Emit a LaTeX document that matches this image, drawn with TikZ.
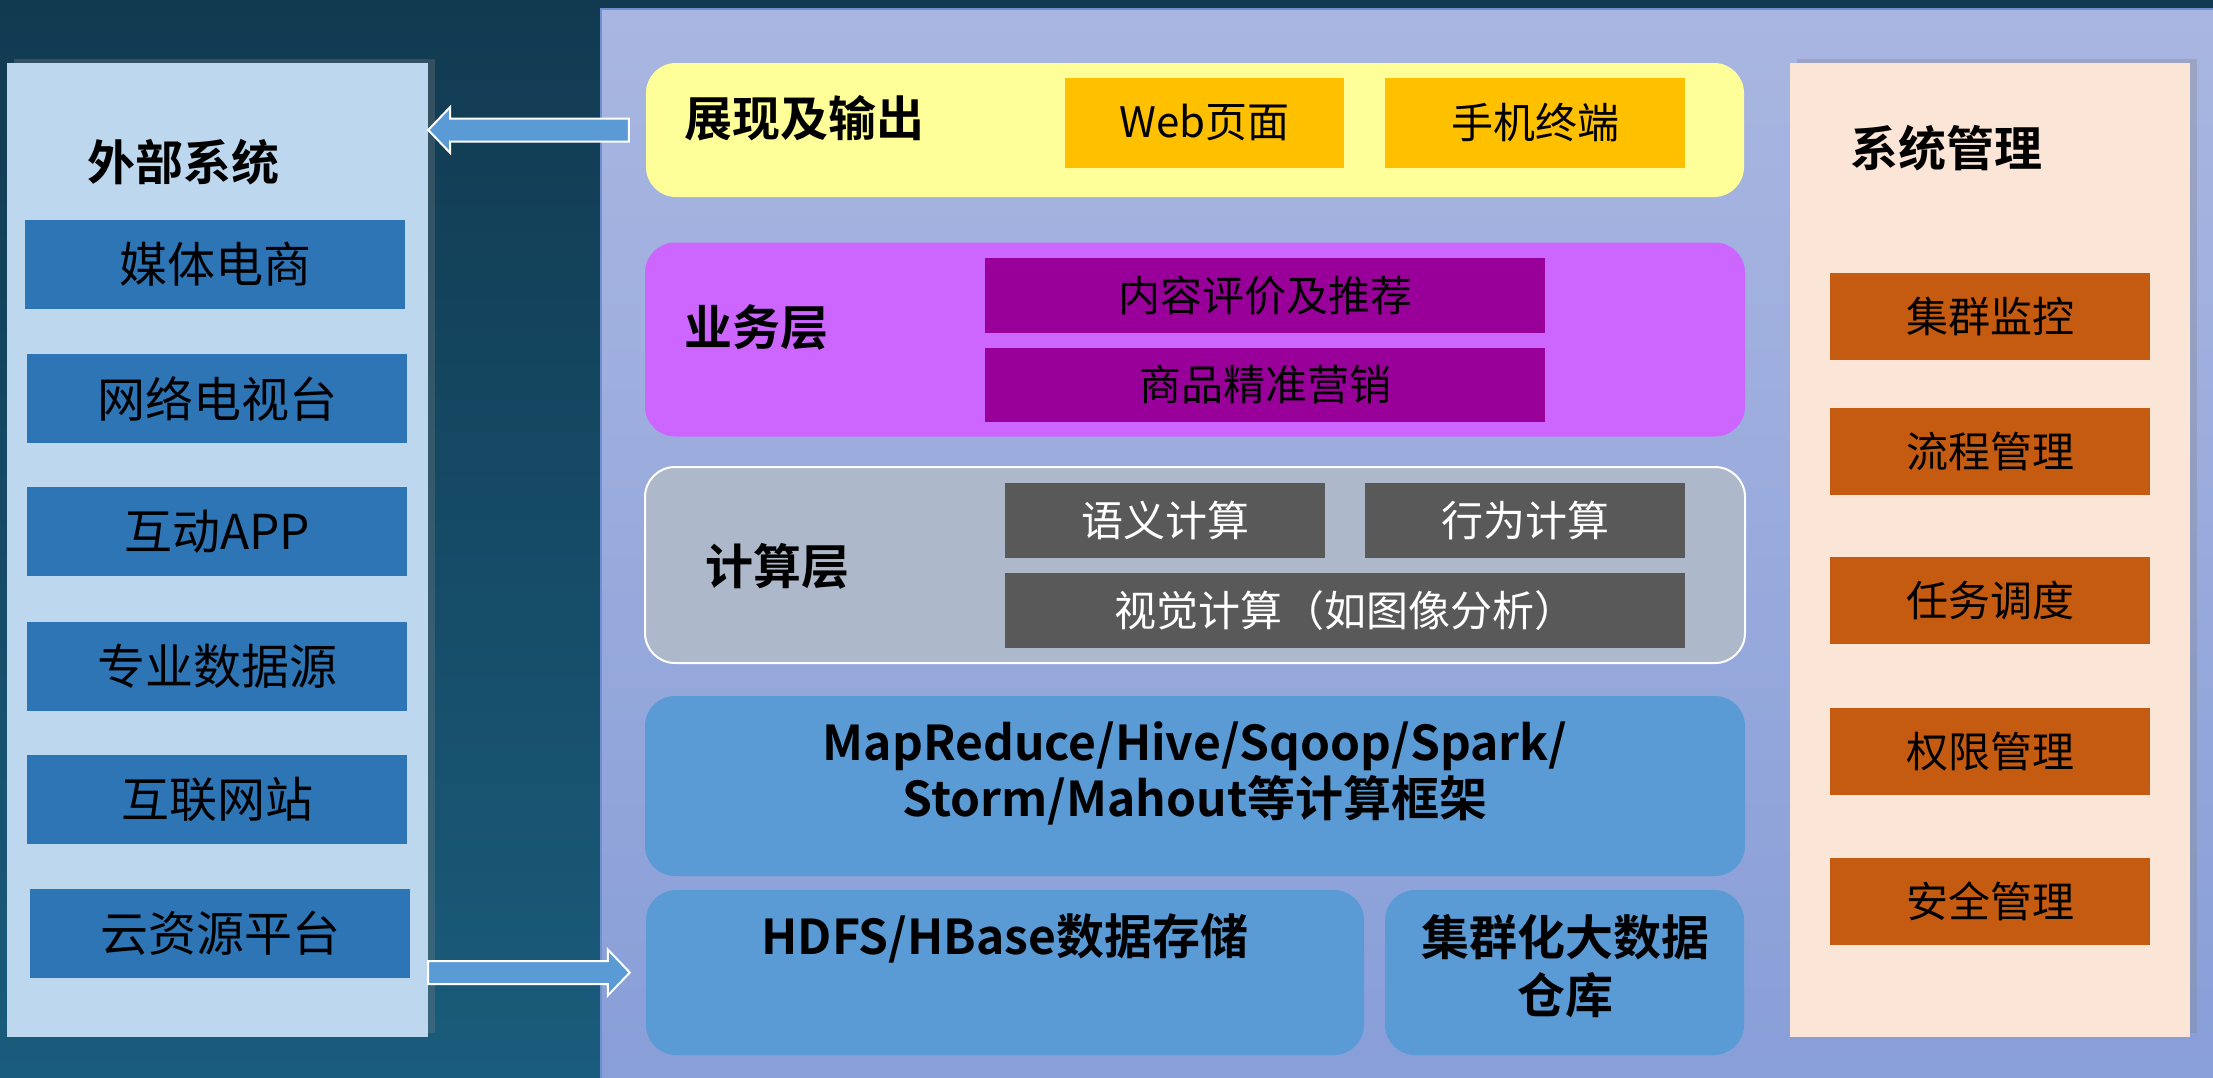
\documentclass[tikz,border=0pt]{standalone}
\usepackage{fontspec}
\setmainfont{Noto Sans CJK SC}[BoldFont={Noto Sans CJK SC Bold}]
\usetikzlibrary{calc,shadows}

\definecolor{bgtop}{HTML}{113A50}
\definecolor{bgbottom}{HTML}{1A5C7C}
\definecolor{coretop}{HTML}{A9B6E1}
\definecolor{corebottom}{HTML}{889ED8}
\definecolor{coreedge}{HTML}{6F8FD2}
\definecolor{extback}{HTML}{BDD7EE}
\definecolor{extblue}{HTML}{2E75B6}
\definecolor{mgmtback}{HTML}{FBE5D6}
\definecolor{mgmtorange}{HTML}{C55A11}
\definecolor{showyellow}{HTML}{FFFF99}
\definecolor{showorange}{HTML}{FFC000}
\definecolor{bizpurple}{HTML}{CC66FF}
\definecolor{bizdark}{HTML}{990099}
\definecolor{compgrey}{HTML}{ADB9CA}
\definecolor{compdark}{HTML}{595959}
\definecolor{layerblue}{HTML}{5B9BD5}

\tikzset{
  sidepanel/.style={fill=#1, inner sep=0pt, drop shadow={shadow xshift=7pt, shadow yshift=4pt, opacity=0.3}},
  layerbox/.style={fill=#1, rounded corners=30pt, inner sep=0pt},
  itembox/.style={fill=#1, inner sep=0pt, font=\fontsize{42}{50}\selectfont},
  extbox/.style={fill=extblue, minimum width=380pt, minimum height=89pt, inner sep=0pt, font=\fontsize{48}{56}\selectfont},
  mgmtbox/.style={fill=mgmtorange, minimum width=320pt, minimum height=87pt, inner sep=0pt, font=\fontsize{42}{50}\selectfont},
  heading/.style={inner sep=0pt, anchor=west, font=\fontsize{48}{56}\selectfont\bfseries},
  bigtext/.style={inner sep=0pt, align=center, font=\fontsize{48}{#1}\selectfont\bfseries},
  bigarrow/.style={fill=layerblue, draw=white, line width=2pt},
}

% #1 tail, #2 tip, #3 direction (1 right, -1 left)
\newcommand{\blockarrow}[3]{%
  \filldraw[bigarrow] ($(#1)+(0,-11.5)$) -- ($(#2)+(-22*#3,-11.5)$) -- ($(#2)+(-22*#3,-23)$) -- (#2)
    -- ($(#2)+(-22*#3,23)$) -- ($(#2)+(-22*#3,11.5)$) -- ($(#1)+(0,11.5)$) -- cycle;}

\begin{document}
\begin{tikzpicture}[x=1pt, y=-1pt]
        \useasboundingbox (0,0) rectangle (2213,1077);
        \shade[top color=bgtop, bottom color=bgbottom] (0,0) rectangle (2213,1077);
        \shade[top color=coretop, bottom color=corebottom, draw=coreedge, line width=1.5pt] (601,9) rectangle (2240,1100);

        % external systems
        \node[sidepanel=extback, minimum width=421pt, minimum height=974pt] (ext) at (217.5,550) {};
        \node[heading] (extt) at (87,162) {外部系统};
        \node[extbox] (media) at (215,264.5) {媒体电商};
        \node[extbox] (iptv) at (217,398.5) {网络电视台};
        \node[extbox] (app) at (217,531.5) {互动APP};
        \node[extbox] (prof) at (217,666) {专业数据源};
        \node[extbox] (site) at (217,799) {互联网站};
        \node[extbox] (cloud) at (220,933) {云资源平台};

        % system management
        \node[sidepanel=mgmtback, minimum width=400pt, minimum height=974pt] (mgmt) at (1990,550) {};
        \node[heading] (mgmtt) at (1850,148) {系统管理};
        \node[mgmtbox] (monitor) at (1990,316.5) {集群监控};
        \node[mgmtbox] (flow) at (1990,451.5) {流程管理};
        \node[mgmtbox] (sched) at (1990,600.5) {任务调度};
        \node[mgmtbox] (perm) at (1990,751.5) {权限管理};
        \node[mgmtbox] (secu) at (1990,901) {安全管理};

        % presentation layer
        \node[layerbox=showyellow, minimum width=1098pt, minimum height=134pt] (show) at (1195,130) {};
        \node[heading] (showt) at (684,118) {展现及输出};
        \node[itembox=showorange, minimum width=279pt, minimum height=90pt] (webpage) at (1204.5,123) {Web页面};
        \node[itembox=showorange, minimum width=300pt, minimum height=90pt] (mobile) at (1535,123) {手机终端};

        % business layer
        \node[layerbox=bizpurple, minimum width=1100pt, minimum height=194pt] (biz) at (1195,339.5) {};
        \node[heading] (bizt) at (684,327) {业务层};
        \node[itembox=bizdark, minimum width=560pt, minimum height=75pt] (rec) at (1265,295.5) {内容评价及推荐};
        \node[itembox=bizdark, minimum width=560pt, minimum height=74pt] (mkt) at (1265,385) {商品精准营销};

        % computing layer
        \node[layerbox=compgrey, draw=white, line width=2pt, minimum width=1100pt, minimum height=196pt] (comp) at (1195,565) {};
        \node[heading] (compt) at (705,566) {计算层};
        \node[itembox=compdark, text=white, minimum width=320pt, minimum height=75pt] (sem) at (1165,520.5) {语义计算};
        \node[itembox=compdark, text=white, minimum width=320pt, minimum height=75pt] (beh) at (1525,520.5) {行为计算};
        \node[itembox=compdark, text=white, minimum width=680pt, minimum height=75pt] (vis) at (1345,610.5) {视觉计算（如图像分析）};

        % frameworks and storage
        \node[layerbox=layerblue, minimum width=1100pt, minimum height=180pt] (frame) at (1195,786) {};
        \node[bigtext=56] (framet) at ($(frame.center)+(0,-13)$) {MapReduce/Hive/Sqoop/Spark/\\Storm/Mahout等计算框架};
        \node[layerbox=layerblue, minimum width=718pt, minimum height=165pt] (hdfs) at (1005,972.5) {};
        \node[bigtext=56] (hdfst) at (1005,938) {HDFS/HBase数据存储};
        \node[layerbox=layerblue, minimum width=359pt, minimum height=165pt] (dw) at (1564.5,972.5) {};
        \node[bigtext=58] (dwt) at (1565,966) {集群化大数据\\仓库};

        % arrows
        \coordinate (outtail) at ($(show.west)+(-17,0)$);
        \coordinate (outtip) at (ext.east |- show.west);
        \blockarrow{outtail}{outtip}{-1}
        \coordinate (intail) at (ext.east |- hdfs.west);
        \coordinate (intip) at ($(hdfs.west)+(-16,0)$);
        \blockarrow{intail}{intip}{1}
    \end{tikzpicture}
\end{document}
